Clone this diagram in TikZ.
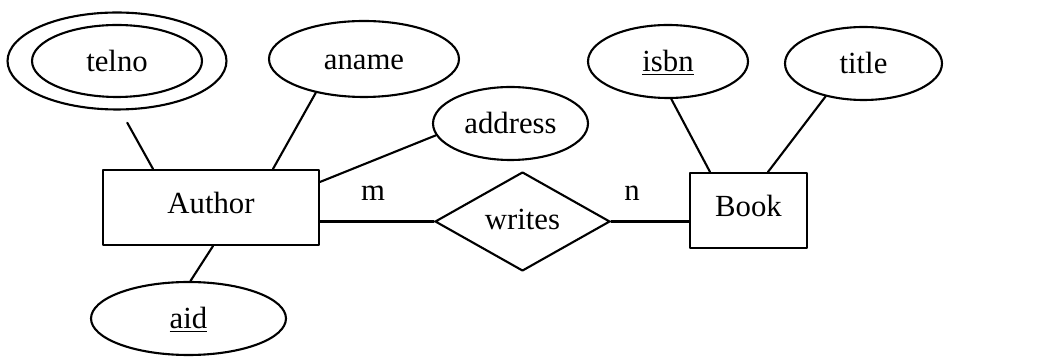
\documentclass[tikz,border=0pt]{standalone}
\usepackage{fontspec}
\setmainfont{Liberation Serif}
\usetikzlibrary{shapes.geometric}
\begin{document}
\begin{tikzpicture}[x=0.02cm, y=-0.02cm, font=\fontsize{17.5}{20}\selectfont, line join=round, line cap=round, line width=1.2pt,
	attr/.style={draw, ellipse, inner sep=0pt, text height=13pt, text depth=1.5pt, minimum height=1.46cm},
	ent/.style={draw, rectangle, inner sep=0pt, text height=12pt, text depth=5pt, minimum height=1.5cm},
	rel/.style={draw, diamond, aspect=1.77, inner sep=0pt, text height=12pt, text depth=2.4pt, minimum width=3.5cm, minimum height=1.98cm}]
	\useasboundingbox (0,0) rectangle (1047,357);
	% entities and relationship
	\node[ent, minimum width=4.32cm] (author) at (211,207.5) {Author};
	\node[ent, minimum width=2.34cm] (book) at (748.5,210.5) {Book};
	\node[rel] (writes) at (522.5,221.5) {writes};
	% attributes
	\node[attr, minimum width=3.4cm, minimum height=1.44cm] (telno) at (117,61) {telno};
	\node[draw, ellipse, minimum width=4.38cm, minimum height=1.94cm] (telnoout) at (telno) {};
	\node[attr, minimum width=3.8cm, minimum height=1.52cm] (aname) at (364,59) {aname};
	\node[attr, minimum width=3.1cm] (address) at (510.5,123.5) {address};
	\node[attr, minimum width=3.9cm] (aid) at (188.5,318.5) {\underline{aid}};
	\node[attr, minimum width=3.2cm] (isbn) at (668,61.5) {\underline{isbn}};
	\node[attr, minimum width=3.14cm] (title) at (863.5,63.5) {title};
	% connectors
	\draw[shorten <=0.28cm] (telnoout.-86) -- ([xshift=-1.16cm]author.north);
	\draw (aname.215) -- ([xshift=1.24cm]author.north);
	\draw (address.189) -- ([yshift=-0.26cm]author.north east);
	\draw (aid.87) -- ([xshift=0.04cm]author.south);
	\draw (isbn.-85) -- ([xshift=-0.77cm]book.north);
	\draw (title.221) -- ([xshift=0.39cm]book.north);
	\draw (writes.west) -- (writes.west -| author.east);
	\draw (writes.east) -- (writes.east -| book.west);
	% cardinalities
	\node (m) at (373,193) {m};
	\node (n) at (632,193) {n};
\end{tikzpicture}
\end{document}
